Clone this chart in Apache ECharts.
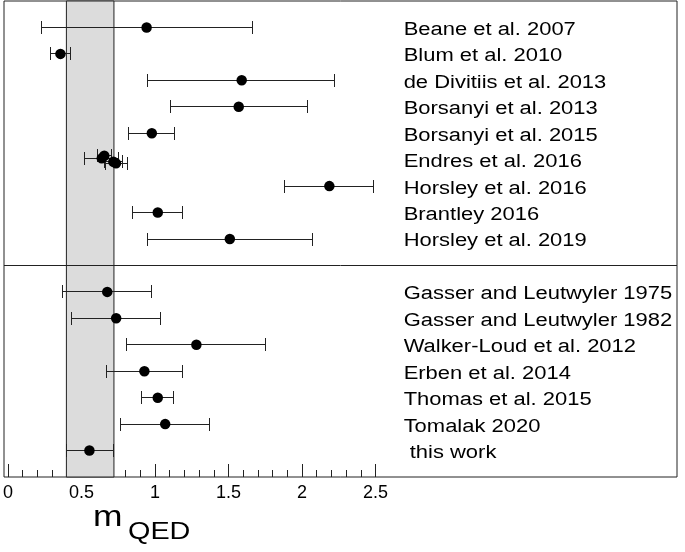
<!DOCTYPE html>
<html><head><meta charset="utf-8">
<script src="https://cdn.jsdelivr.net/npm/echarts@6/dist/echarts.min.js"></script>
<style>html,body{margin:0;padding:0;background:#fff}#c{width:685px;height:552px}</style>
</head><body><div id="c"></div>
<script>
// Data
const names = ["Beane et al. 2007","Blum et al. 2010","de Divitiis et al. 2013","Borsanyi et al. 2013","Borsanyi et al. 2015","Endres et al. 2016","Horsley et al. 2016","Brantley 2016","Horsley et al. 2019",
  "Gasser and Leutwyler 1975","Gasser and Leutwyler 1982","Walker-Loud et al. 2012","Erben et al. 2014","Thomas et al. 2015","Tomalak 2020"," this work"];
const rows   = [1,2,3,4,5,6,7,8,9, 11,12,13,14,15,16,17];
// central values and error-bar ends (Endres handled separately)
const values = [0.96,0.38,1.60,1.58,0.995,null,2.19,1.035,1.52, 0.695,0.755,1.295,0.945,1.035,1.085,0.575];
const lows   = [0.25,0.312,0.968,1.123,0.84,null,1.89,0.867,0.965, 0.397,0.456,0.826,0.687,0.927,0.783,0.42];
const highs  = [1.675,0.449,2.224,2.042,1.149,null,2.485,1.203,2.079, 0.994,1.055,1.762,1.203,1.143,1.383,0.736];
// Endres et al. 2016: several results, slightly offset vertically
const endresVals = [0.658,0.675,0.736,0.754];
const endresLows = [0.539,0.628,0.675,0.68];
const endresHighs= [0.77,0.725,0.797,0.833];
const endresRows = [5.95,5.85,6.08,6.14];
const band = [0.42,0.74];
const divider = 10;
const tickLabels = ["0","0.5","1","1.5","2","2.5"];
const axisTitle = ["m","QED"];

const pts = [], bars = [];
for (let i=0;i<names.length;i++){
  if (values[i]!==null){ pts.push([values[i],rows[i]]); bars.push([lows[i],highs[i],rows[i]]); }
}
for (let i=0;i<endresVals.length;i++){ pts.push([endresVals[i],endresRows[i]]); bars.push([endresLows[i],endresHighs[i],endresRows[i]]); }
const labelData = names.map((n,i)=>[2.69,rows[i],i]);

const chart = echarts.init(document.getElementById('c'));
const FAM = '"Liberation Sans", Arial, Helvetica, sans-serif';
const crisp = v => Math.round(v-0.5)+0.5;
chart.setOption({
  animation:false,
  textStyle:{fontFamily:FAM},
  graphic:[
    {type:'text',x:93,y:517.5,scaleX:1.18,style:{text:axisTitle[0],font:'30px '+FAM,fill:'#000',verticalAlign:'middle'}},
    {type:'text',x:128,y:532.5,scaleX:1.2,style:{text:axisTitle[1],font:'24px '+FAM,fill:'#000',verticalAlign:'middle'}}
  ],
  grid:[
    {left:4,right:8,top:1,bottom:75,show:true,borderColor:'#222',borderWidth:1,backgroundColor:'transparent'},
    {left:4,width:371.5,top:1,bottom:75}
  ],
  xAxis:[
    {gridIndex:0,type:'value',min:0,max:4.53,show:false},
    {gridIndex:1,type:'value',min:0,max:2.5,interval:0.5,position:'bottom',
      axisLine:{show:false,onZero:false},
      axisTick:{show:true,inside:true,length:13,lineStyle:{color:'#222',width:1}},
      minorTick:{show:true,splitNumber:5,length:7,lineStyle:{color:'#222',width:1}},
      splitLine:{show:false},minorSplitLine:{show:false},
      axisLabel:{fontSize:18,color:'#000',margin:7,fontFamily:FAM,formatter:(v)=>tickLabels[Math.round(v/0.5)]}}
  ],
  yAxis:[
    {gridIndex:0,type:'value',min:0,max:18,inverse:true,show:false},
    {gridIndex:1,type:'value',min:0,max:18,inverse:true,show:false}
  ],
  series:[
    {type:'scatter',xAxisIndex:0,yAxisIndex:0,data:[],silent:true,
      markArea:{silent:true,itemStyle:{color:'#dcdcdc',borderColor:'#222',borderWidth:1},
        data:[[{xAxis:band[0],yAxis:0},{xAxis:band[1],yAxis:18}]]},
      markLine:{silent:true,symbol:['none','none'],label:{show:false},lineStyle:{color:'#222',width:1,type:'solid'},
        data:[{yAxis:divider}]}
    },
    {type:'custom',xAxisIndex:0,yAxisIndex:0,data:bars,silent:true,
      renderItem:(params,api)=>{
        const a=api.coord([api.value(0),api.value(2)]);
        const b=api.coord([api.value(1),api.value(2)]);
        const y=crisp(a[1]), xa=crisp(a[0]), xb=crisp(b[0]);
        const h=6.5;
        const st={stroke:'#222',lineWidth:1};
        return {type:'group',children:[
          {type:'line',shape:{x1:xa,y1:y,x2:xb,y2:y},style:st},
          {type:'line',shape:{x1:xa,y1:y-h,x2:xa,y2:y+h},style:st},
          {type:'line',shape:{x1:xb,y1:y-h,x2:xb,y2:y+h},style:st}
        ]};
      }},
    {type:'scatter',xAxisIndex:0,yAxisIndex:0,data:pts,symbol:'circle',symbolSize:10.5,itemStyle:{color:'#000',opacity:1},silent:true},
    {type:'custom',xAxisIndex:0,yAxisIndex:0,data:labelData,silent:true,
      renderItem:(params,api)=>{
        const p=api.coord([api.value(0),api.value(1)]);
        return {type:'text',x:p[0],y:p[1]+2.5,scaleX:1.22,
          style:{text:names[api.value(2)],font:'18px '+FAM,fill:'#000',align:'left',verticalAlign:'middle'}};
      }},
    {type:'scatter',xAxisIndex:1,yAxisIndex:1,data:[]}
  ]
});
</script></body></html>
